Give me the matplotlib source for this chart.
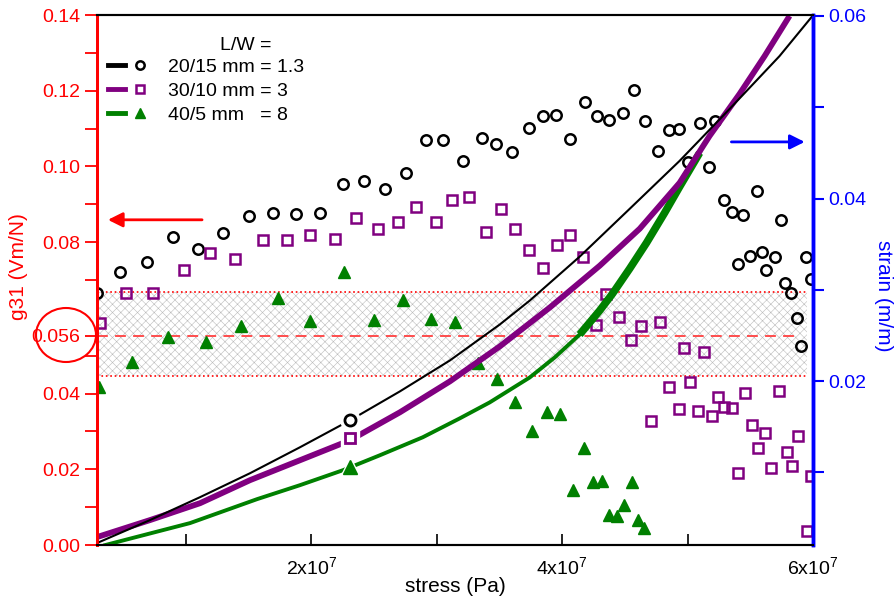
import matplotlib
matplotlib.use("Agg")
import matplotlib.pyplot as plt
import numpy as np
from matplotlib.lines import Line2D
from matplotlib.legend_handler import HandlerTuple
from matplotlib.patches import Ellipse

plt.rcParams['font.family'] = ['Liberation Sans', 'DejaVu Sans']
plt.rcParams['mathtext.default'] = 'regular'
plt.rcParams['hatch.linewidth'] = 0.4

# g31 data (left axis), stress in Pa
x_20_15 = np.array([0.291, 0.474, 0.689, 0.896, 1.096, 1.295, 1.502, 1.693, 1.876, 2.068,
                    2.251, 2.418, 2.586, 2.753, 2.912, 3.048, 3.207, 3.359, 3.470, 3.598,
                    3.733, 3.845, 3.948, 4.060, 4.179, 4.275, 4.371, 4.482, 4.570, 4.657,
                    4.761, 4.849, 4.928, 5.000, 5.096, 5.167, 5.215, 5.287, 5.351, 5.438,
                    5.550, 5.741, 5.398, 5.494, 5.590, 5.629, 5.693, 5.773, 5.821, 5.876,
                    5.908, 5.948, 5.988]) * 1e7
g_20_15 = np.array([0.0666, 0.0721, 0.0748, 0.0814, 0.0782, 0.0824, 0.0869, 0.0877, 0.0875, 0.0877,
                    0.0954, 0.0962, 0.0941, 0.0983, 0.1070, 0.1070, 0.1015, 0.1075, 0.1059, 0.1038,
                    0.1102, 0.1133, 0.1136, 0.1073, 0.1170, 0.1133, 0.1123, 0.1141, 0.1202, 0.1120,
                    0.1041, 0.1096, 0.1099, 0.1012, 0.1115, 0.0999, 0.1120, 0.0911, 0.0880, 0.0872,
                    0.0935, 0.0859, 0.0742, 0.0764, 0.0774, 0.0727, 0.0761, 0.0692, 0.0666, 0.0600,
                    0.0526, 0.0761, 0.0703])

x_30_10 = np.array([0.315, 0.522, 0.737, 0.984, 1.191, 1.390, 1.614, 1.805, 1.988, 2.187,
                    2.355, 2.530, 2.689, 2.833, 2.992, 3.120, 3.255, 3.390, 3.510, 3.622,
                    3.733, 3.845, 3.956, 4.060, 4.163, 4.347, 4.267, 4.450, 4.546, 4.625,
                    4.777, 4.705, 4.849, 4.928, 4.968, 5.016, 5.080, 5.127, 5.191, 5.239,
                    5.287, 5.351, 5.398, 5.454, 5.510, 5.558, 5.614, 5.669, 5.725, 5.789,
                    5.829, 5.884, 5.956, 5.988]) * 1e7
g_30_10 = np.array([0.0587, 0.0666, 0.0666, 0.0727, 0.0771, 0.0756, 0.0806, 0.0806, 0.0819, 0.0808,
                    0.0864, 0.0835, 0.0853, 0.0893, 0.0853, 0.0911, 0.0919, 0.0827, 0.0888, 0.0835,
                    0.0779, 0.0732, 0.0793, 0.0819, 0.0761, 0.0663, 0.0581, 0.0602, 0.0542, 0.0579,
                    0.0589, 0.0328, 0.0417, 0.0359, 0.0520, 0.0431, 0.0354, 0.0510, 0.0341, 0.0391,
                    0.0365, 0.0362, 0.0190, 0.0402, 0.0317, 0.0256, 0.0296, 0.0203, 0.0407, 0.0246,
                    0.0209, 0.0288, 0.0037, 0.0182])

x_40_5 = np.array([0.307, 0.570, 0.857, 1.159, 1.438, 1.733, 1.988, 2.259, 2.498, 2.729,
                   2.952, 3.143, 3.327, 3.478, 3.622, 3.757, 3.876, 3.980, 4.084, 4.171,
                   4.243, 4.315, 4.371, 4.434, 4.490, 4.554, 4.602, 4.649]) * 1e7
g_40_5 = np.array([0.0417, 0.0483, 0.0550, 0.0536, 0.0579, 0.0653, 0.0592, 0.0721, 0.0594, 0.0647,
                   0.0597, 0.0589, 0.0481, 0.0439, 0.0378, 0.0301, 0.0351, 0.0346, 0.0145, 0.0256,
                   0.0166, 0.0169, 0.0079, 0.0077, 0.0106, 0.0166, 0.0066, 0.0045])

# strain curves (right axis)
sx_20_15 = np.array([0.291, 0.713, 1.112, 1.510, 1.908, 2.307, 2.705, 3.104, 3.502, 3.741,
                     4.139, 4.538, 4.936, 5.335, 5.733, 5.996]) * 1e7
s_20_15 = np.array([0.00227, 0.00478, 0.00729, 0.00991, 0.01275, 0.0157, 0.01887, 0.02226, 0.0262,
                    0.02882, 0.03363, 0.03887, 0.04412, 0.04981, 0.0556, 0.0600])
sx_30_10 = np.array([0.291, 0.713, 1.112, 1.510, 1.908, 2.307, 2.705, 3.104, 3.502, 3.900,
                     4.299, 4.618, 4.936, 5.175, 5.414, 5.614, 5.813]) * 1e7
s_30_10 = np.array([0.00292, 0.00478, 0.00663, 0.00915, 0.01133, 0.01352, 0.01658, 0.01997, 0.0238,
                    0.02805, 0.03264, 0.03669, 0.04172, 0.04685, 0.05145, 0.0556, 0.0600])
sx_40_5 = np.array([0.355, 1.032, 1.566, 1.908, 2.251, 2.546, 2.888, 3.183, 3.422, 3.741,
                    3.940, 4.139, 4.299, 4.402, 4.538, 4.673, 4.817, 4.936, 5.096]) * 1e7
s_40_5 = np.array([0.00204, 0.00445, 0.00707, 0.0086, 0.01024, 0.01188, 0.01385, 0.01592, 0.01767,
                   0.0204, 0.02259, 0.0251, 0.02773, 0.02959, 0.03232, 0.03516, 0.03844, 0.04128,
                   0.045])
# symbol drawn on each strain curve
sym_x = 2.31e7
sym_s = [0.0157, 0.01374, 0.01057]

labels = ['20/15 mm = 1.3', '30/10 mm = 3', '40/5 mm   = 8']
band_lo, band_mid, band_hi = 0.0446, 0.0553, 0.0667
band_end, mid_end = 5.95e7, 5.88e7

purple = '#800080'
green = '#008000'

fig = plt.figure(figsize=(8.94, 6), dpi=100)
ax = fig.add_axes([97 / 894, 55 / 600, 716 / 894, 530 / 600])
ax2 = ax.twinx()

xmin, xmax = 2.9e6, 6.0e7
ax.set_xlim(xmin, xmax)
ax.set_ylim(0, 0.14)
ax2.set_ylim(0.00205, 0.0601)

# shaded 0.056 band
ax.fill_between([xmin, band_end], band_lo, band_hi, facecolor='none',
                edgecolor='#bcbcbc', hatch='xxxx', lw=0, zorder=0)
ax.hlines([band_lo, band_hi], xmin, band_end, colors='red', linestyles=':', lw=1.2)
ax.hlines(band_mid, xmin, mid_end, colors='#ff4040', linestyles=(0, (6, 4)), lw=1.3)

ax.plot(x_20_15, g_20_15, 'o', mfc='none', mec='black', mew=1.8, ms=7.5, ls='none')
ax.plot(x_30_10, g_30_10, 's', mfc='none', mec=purple, mew=1.8, ms=6.5, ls='none')
ax.plot(x_40_5, g_40_5, '^', color=green, ms=9, ls='none')

ax2.plot(sx_40_5, s_40_5, color=green, lw=2.8)
ax2.plot(sx_40_5[11:], s_40_5[11:], color=green, lw=5.5, solid_capstyle='butt')
ax2.plot(sx_30_10, s_30_10, color=purple, lw=4.2, solid_capstyle='butt')
ax2.plot(sx_20_15, s_20_15, color='black', lw=1.5)
ax2.plot([sym_x], [sym_s[0]], 'o', mfc='white', mec='white', ms=14)
ax2.plot([sym_x], [sym_s[0]], 'o', mfc='white', mec='black', mew=2, ms=8)
ax2.plot([sym_x], [sym_s[1]], 's', mfc='white', mec='white', ms=13)
ax2.plot([sym_x], [sym_s[1]], 's', mfc='white', mec=purple, mew=2, ms=7)
ax2.plot([sym_x], [sym_s[2]], '^', color='white', ms=15)
ax2.plot([sym_x], [sym_s[2]], '^', color=green, ms=10)

# arrows
ax.annotate('', xy=(0.355e7, 0.0859), xytext=(1.15e7, 0.0859),
            arrowprops=dict(arrowstyle='-|>', color='red', lw=2, mutation_scale=22))
ax2.annotate('', xy=(5.956e7, 0.0462), xytext=(5.327e7, 0.0462),
             arrowprops=dict(arrowstyle='-|>', color='blue', lw=2, mutation_scale=22))

# ticks
ax.set_xticks([2e7, 4e7, 6e7])
ax.set_xticklabels([r'2x10$^{7}$', r'4x10$^{7}$', r'6x10$^{7}$'])
ax.set_xticks([1e7, 3e7, 5e7], minor=True)
ax.set_yticks([0, 0.02, 0.04, band_mid, 0.08, 0.10, 0.12, 0.14])
ax.set_yticklabels(['0.00', '0.02', '0.04', '0.056', '0.08', '0.10', '0.12', '0.14'])
ax.set_yticks([0.01, 0.03, 0.05, 0.07, 0.09, 0.11, 0.13], minor=True)
ax2.set_yticks([0.02, 0.04, 0.06])
ax2.set_yticklabels(['0.02', '0.04', '0.06'])
ax2.set_yticks([0.01, 0.03, 0.05], minor=True)

ax.tick_params(axis='x', which='both', direction='in', length=8, width=1.2,
               labelsize=14, top=False, pad=8)
ax.tick_params(axis='y', which='both', direction='out', length=9, width=1.3,
               color='red', labelcolor='red', labelsize=14, pad=3)
ax2.tick_params(axis='y', which='both', direction='out', length=8, width=1.5,
                color='blue', labelcolor='blue', labelsize=14, pad=3)

for a in (ax, ax2):
    a.spines['top'].set_color('black')
    a.spines['bottom'].set_color('black')
    a.spines['top'].set_linewidth(1.5)
    a.spines['bottom'].set_linewidth(1.5)
    a.spines['left'].set_color('red')
    a.spines['left'].set_linewidth(2)
    a.spines['right'].set_color('blue')
    a.spines['right'].set_linewidth(2.5)

ax.set_xlabel('stress (Pa)', fontsize=15)
ax.xaxis.set_label_coords(0.5, -0.078)
ax.xaxis.label.set_va('center')
ax.set_ylabel('g31 (Vm/N)', color='red', fontsize=15)
ax.yaxis.set_label_coords(-0.11, 0.526)
ax.yaxis.label.set_va('center')
ax2.set_ylabel('strain (m/m)', color='blue', fontsize=15, rotation=270)
ax2.yaxis.set_label_coords(1.098, 0.47)
ax2.yaxis.label.set_va('center')

# circle around the 0.056 label
fig.add_artist(Ellipse((66 / 894, 1 - 335 / 600), 60 / 894, 54 / 600,
                       transform=fig.transFigure, fill=False, ec='red', lw=1.5))

# legend
handles = [
    (Line2D([], [], color='black', lw=3.5),
     Line2D([], [], marker='o', ls='none', mfc='none', mec='black', mew=1.8, ms=6)),
    (Line2D([], [], color=purple, lw=3.5),
     Line2D([], [], marker='s', ls='none', mfc='none', mec=purple, mew=1.8, ms=5.5)),
    (Line2D([], [], color=green, lw=3.5),
     Line2D([], [], marker='^', ls='none', color=green, ms=7.5)),
]
ax2.legend(handles, labels, handler_map={tuple: HandlerTuple(ndivide=None, pad=0.3)},
           loc='upper left', bbox_to_anchor=(0.015, 0.918), frameon=False, fontsize=14,
           handlelength=2.1, handletextpad=1.0, labelspacing=0.32, borderpad=0,
           borderaxespad=0)
ax2.text(0.208, 0.943, 'L/W =', transform=ax2.transAxes, fontsize=14,
         ha='center', va='center')

fig.savefig('out.png', dpi=100)
